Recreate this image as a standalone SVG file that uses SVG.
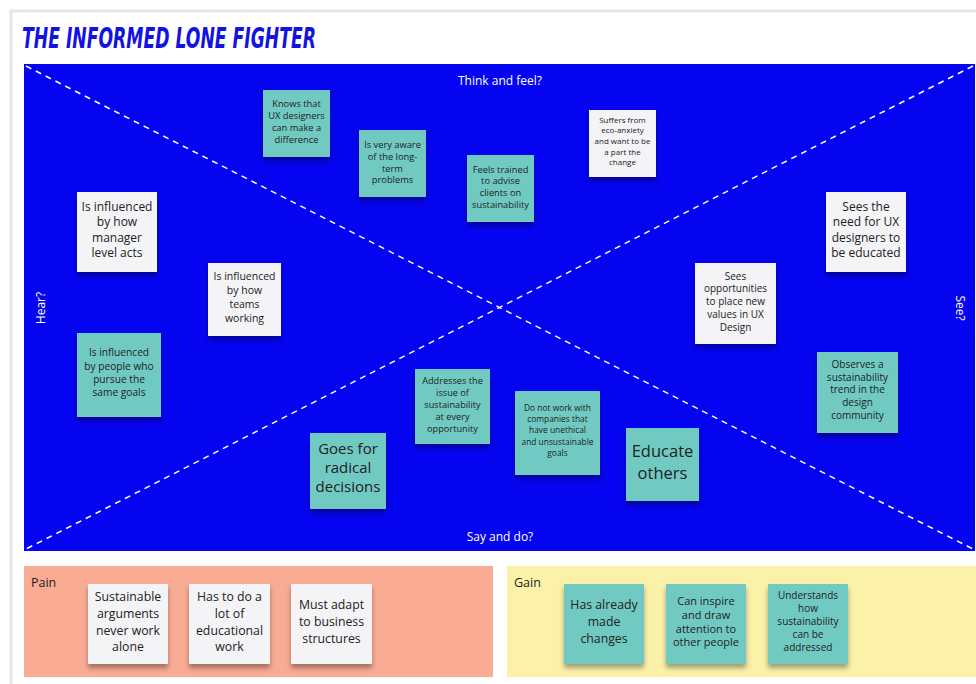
<svg xmlns="http://www.w3.org/2000/svg" width="976" height="684" viewBox="0 0 976 684">
  <defs>
    <filter id="noteShadow" x="-20%" y="-20%" width="140%" height="150%">
      <feDropShadow dx="0" dy="4" stdDeviation="2.5" flood-color="#000" flood-opacity="0.35"/>
    </filter>
    <style>
      .frame { fill: #ffffff; stroke: #e5e5e5; stroke-width: 3; }
      .title { font-family: "DejaVu Sans Condensed", "DejaVu Sans", sans-serif; font-weight: bold; font-style: italic; font-size: 29px; fill: #1212e2; }
      .board { fill: #0404f0; }
      .diag { stroke: #ffffff; stroke-width: 1.5; stroke-dasharray: 6 5; fill: none; }
      .axis { font-family: "Open Sans", "Noto Sans", sans-serif; font-size: 12px; fill: #ffffff; }
      .note { filter: url(#noteShadow); }
      .teal { fill: #70cac2; }
      .white { fill: #f4f4f7; }
      .nt { font-family: "Open Sans", "Noto Sans", sans-serif; fill: #222222; text-anchor: middle; }
      .pain { fill: #f9ab94; }
      .gain { fill: #fbf1a9; }
      .lane { font-family: "Open Sans", "Noto Sans", sans-serif; font-size: 12.5px; fill: #222222; }
    </style>
  </defs>

  <!-- canvas frame -->
  <rect class="frame" x="11" y="11" width="990" height="700"/>
  <text class="title" x="22" y="48" textLength="294" lengthAdjust="spacingAndGlyphs">THE INFORMED LONE FIGHTER</text>

  <!-- empathy map board -->
  <rect class="board" x="24" y="64" width="951" height="487"/>

  <g id="connectors">
    <line class="diag" x1="26" y1="66" x2="973" y2="549"/>
    <line class="diag" x1="973" y1="66" x2="26" y2="549"/>
  </g>

  <text class="axis" x="500" y="85" text-anchor="middle">Think and feel?</text>
  <text class="axis" x="500" y="541" text-anchor="middle" font-size="12.5">Say and do?</text>
  <text class="axis" x="40" y="308" text-anchor="middle" dominant-baseline="central" transform="rotate(-90 40 308)">Hear?</text>
  <text class="axis" x="960" y="308" text-anchor="middle" dominant-baseline="central" transform="rotate(90 960 308)">See?</text>

  <!-- think and feel -->
  <g id="knows-difference">
    <rect class="note teal" x="263" y="90" width="67" height="67"/>
    <text class="nt" font-size="9.3"><tspan x="296.5" y="107.3">Knows that</tspan><tspan x="296.5" y="119">UX designers</tspan><tspan x="296.5" y="131">can make a</tspan><tspan x="296.5" y="142.6">difference</tspan></text>
  </g>
  <g id="long-term-problems">
    <rect class="note teal" x="359" y="130" width="67" height="67"/>
    <text class="nt" font-size="9.3"><tspan x="392.5" y="147.6">Is very aware</tspan><tspan x="392.5" y="160">of the long-</tspan><tspan x="392.5" y="171.6">term</tspan><tspan x="392.5" y="183.3">problems</tspan></text>
  </g>
  <g id="feels-trained">
    <rect class="note teal" x="467" y="155" width="67" height="67"/>
    <text class="nt" font-size="9.3"><tspan x="500.5" y="172.6">Feels trained</tspan><tspan x="500.5" y="184.3">to advise</tspan><tspan x="500.5" y="196">clients on</tspan><tspan x="500.5" y="207.6">sustainability</tspan></text>
  </g>
  <g id="eco-anxiety">
    <rect class="note white" x="589" y="110" width="67" height="67"/>
    <text class="nt" font-size="8"><tspan x="622.5" y="122.5">Suffers from</tspan><tspan x="622.5" y="133.2">eco-anxiety</tspan><tspan x="622.5" y="143.9">and want to be</tspan><tspan x="622.5" y="154.6">a part the</tspan><tspan x="622.5" y="165.3">change</tspan></text>
  </g>

  <!-- see -->
  <g id="need-educated">
    <rect class="note white" x="826" y="192" width="80" height="80"/>
    <text class="nt" font-size="12"><tspan x="866" y="210.9">Sees the</tspan><tspan x="866" y="226.2">need for UX</tspan><tspan x="866" y="241.5">designers to</tspan><tspan x="866" y="256.8">be educated</tspan></text>
  </g>
  <g id="new-values">
    <rect class="note white" x="695" y="263" width="81" height="81"/>
    <text class="nt" font-size="10"><tspan x="735.5" y="279.5">Sees</tspan><tspan x="735.5" y="292.3">opportunities</tspan><tspan x="735.5" y="305.1">to place new</tspan><tspan x="735.5" y="317.9">values in UX</tspan><tspan x="735.5" y="330.7">Design</tspan></text>
  </g>
  <g id="sustainability-trend">
    <rect class="note teal" x="817" y="352" width="81" height="81"/>
    <text class="nt" font-size="10"><tspan x="857.5" y="367.8">Observes a</tspan><tspan x="857.5" y="380.6">sustainability</tspan><tspan x="857.5" y="393.4">trend in the</tspan><tspan x="857.5" y="406.2">design</tspan><tspan x="857.5" y="419">community</tspan></text>
  </g>

  <!-- hear -->
  <g id="manager-level">
    <rect class="note white" x="77" y="192" width="80" height="80"/>
    <text class="nt" font-size="12"><tspan x="117" y="211">Is influenced</tspan><tspan x="117" y="226.3">by how</tspan><tspan x="117" y="241.6">manager</tspan><tspan x="117" y="256.9">level acts</tspan></text>
  </g>
  <g id="teams-working">
    <rect class="note white" x="208" y="263" width="73" height="73"/>
    <text class="nt" font-size="10.5"><tspan x="244.5" y="280.4">Is influenced</tspan><tspan x="244.5" y="294.1">by how</tspan><tspan x="244.5" y="307.8">teams</tspan><tspan x="244.5" y="321.5">working</tspan></text>
  </g>
  <g id="same-goals">
    <rect class="note teal" x="77" y="333" width="84" height="84"/>
    <text class="nt" font-size="10.2"><tspan x="119" y="356.3">Is influenced</tspan><tspan x="119" y="369.6">by people who</tspan><tspan x="119" y="382.9">pursue the</tspan><tspan x="119" y="396.2">same goals</tspan></text>
  </g>

  <!-- say and do -->
  <g id="every-opportunity">
    <rect class="note teal" x="415" y="369" width="75" height="75"/>
    <text class="nt" font-size="9.2"><tspan x="452.5" y="383.5">Addresses the</tspan><tspan x="452.5" y="395.7">issue of</tspan><tspan x="452.5" y="407.9">sustainability</tspan><tspan x="452.5" y="420.1">at every</tspan><tspan x="452.5" y="432.3">opportunity</tspan></text>
  </g>
  <g id="unethical-companies">
    <rect class="note teal" x="515" y="391" width="85" height="84"/>
    <text class="nt" font-size="8.4"><tspan x="557.5" y="410.9">Do not work with</tspan><tspan x="557.5" y="422.1">companies that</tspan><tspan x="557.5" y="433.3">have unethical</tspan><tspan x="557.5" y="444.5">and unsustainable</tspan><tspan x="557.5" y="455.7">goals</tspan></text>
  </g>
  <g id="radical-decisions">
    <rect class="note teal" x="310" y="433" width="76" height="76"/>
    <text class="nt" font-size="15"><tspan x="348" y="454.2">Goes for</tspan><tspan x="348" y="473">radical</tspan><tspan x="348" y="491.8">decisions</tspan></text>
  </g>
  <g id="educate-others">
    <rect class="note teal" x="626" y="428" width="73" height="73"/>
    <text class="nt" font-size="16.5"><tspan x="662.5" y="457">Educate</tspan><tspan x="662.5" y="479">others</tspan></text>
  </g>

  <!-- pain lane -->
  <rect class="pain" x="24" y="566" width="469" height="111"/>
  <text class="lane" x="31" y="586.5">Pain</text>
  <g id="pain-arguments">
    <rect class="note white" x="88" y="584" width="80" height="80"/>
    <text class="nt" font-size="12.3"><tspan x="128" y="601.1">Sustainable</tspan><tspan x="128" y="617.8">arguments</tspan><tspan x="128" y="634.5">never work</tspan><tspan x="128" y="651.2">alone</tspan></text>
  </g>
  <g id="pain-educational">
    <rect class="note white" x="189" y="584" width="81" height="80"/>
    <text class="nt" font-size="12.3"><tspan x="229.5" y="601.1">Has to do a</tspan><tspan x="229.5" y="617.8">lot of</tspan><tspan x="229.5" y="634.5">educational</tspan><tspan x="229.5" y="651.2">work</tspan></text>
  </g>
  <g id="pain-structures">
    <rect class="note white" x="291" y="584" width="81" height="80"/>
    <text class="nt" font-size="12.3"><tspan x="331.5" y="609.4">Must adapt</tspan><tspan x="331.5" y="626.1">to business</tspan><tspan x="331.5" y="642.8">structures</tspan></text>
  </g>

  <!-- gain lane -->
  <rect class="gain" x="507" y="566" width="469" height="111"/>
  <text class="lane" x="514" y="586.5">Gain</text>
  <g id="gain-changes">
    <rect class="note teal" x="564" y="584" width="80" height="80"/>
    <text class="nt" font-size="12.3"><tspan x="604" y="609.4">Has already</tspan><tspan x="604" y="626.1">made</tspan><tspan x="604" y="642.8">changes</tspan></text>
  </g>
  <g id="gain-inspire">
    <rect class="note teal" x="666" y="584" width="80" height="80"/>
    <text class="nt" font-size="11"><tspan x="706" y="604.9">Can inspire</tspan><tspan x="706" y="618.7">and draw</tspan><tspan x="706" y="632.5">attention to</tspan><tspan x="706" y="646.3">other people</tspan></text>
  </g>
  <g id="gain-understands">
    <rect class="note teal" x="768" y="584" width="80" height="80"/>
    <text class="nt" font-size="10"><tspan x="808" y="598.8">Understands</tspan><tspan x="808" y="611.8">how</tspan><tspan x="808" y="624.8">sustainability</tspan><tspan x="808" y="637.8">can be</tspan><tspan x="808" y="650.8">addressed</tspan></text>
  </g>
</svg>
